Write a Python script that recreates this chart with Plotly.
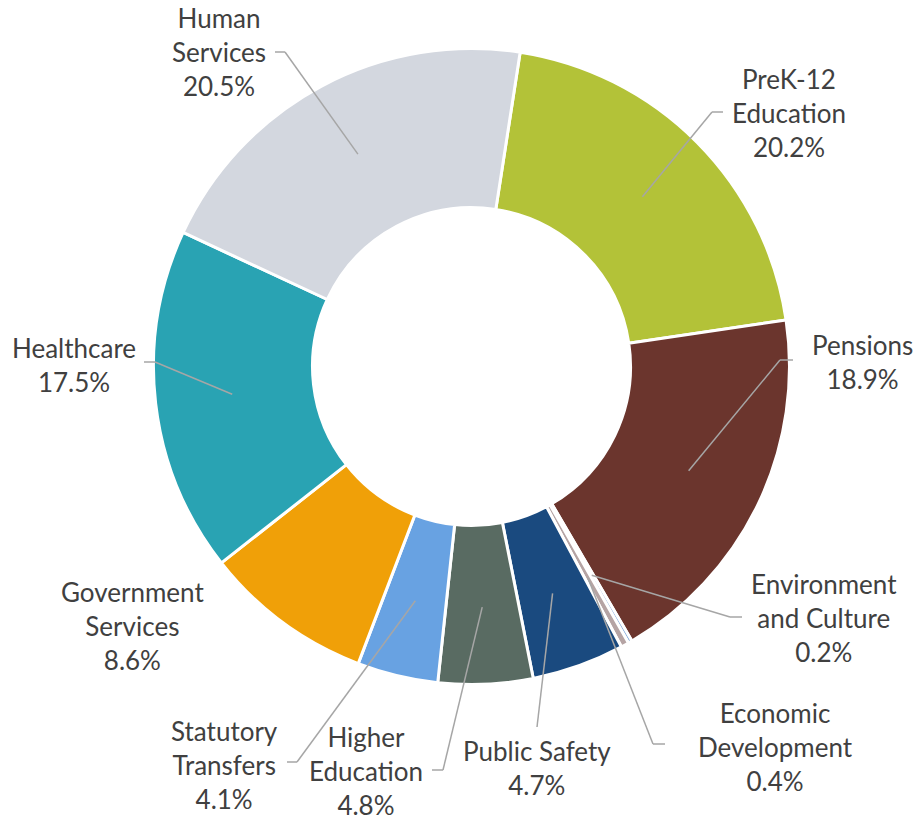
import math
import plotly.graph_objects as go

# ---- data ----
categories = ["PreK-12 Education", "Pensions", "Environment and Culture",
              "Economic Development", "Public Safety", "Higher Education",
              "Statutory Transfers", "Government Services", "Healthcare",
              "Human Services"]
label_text = ["PreK-12<br>Education", "Pensions", "Environment<br>and Culture",
              "Economic<br>Development", "Public Safety", "Higher<br>Education",
              "Statutory<br>Transfers", "Government<br>Services", "Healthcare",
              "Human<br>Services"]
values = [20.2, 18.9, 0.2, 0.4, 4.7, 4.8, 4.1, 8.6, 17.5, 20.5]

# ---- style ----
colors = ["#B3C238", "#6B352D", "#7FA7D9", "#B5A4A4", "#1A4A7F",
          "#596B62", "#68A2E2", "#F0A008", "#29A3B3", "#D3D7DF"]

W, H = 922, 822
CX, CY, R = 471.5, 366.5, 318.0       # pie centre / radius in page px
HOLE = 0.5
ROT = 8.8                             # degrees, clockwise from 12 o'clock

# label layout (page px): text centre, elbow point, end of horizontal tick
label_pos = {
    "PreK-12 Education":       dict(tx=789, ty=113, ex=712, ey=112, hx=723),
    "Pensions":                dict(tx=862, ty=362, ex=780, ey=360, hx=793),
    "Environment and Culture": dict(tx=824, ty=618, ex=730, ey=617, hx=742),
    "Economic Development":    dict(tx=775, ty=747, ex=653, ey=744, hx=665),
    "Public Safety":           dict(tx=537, ty=768, ex=537, ey=727, hx=None),
    "Higher Education":        dict(tx=366, ty=771, ex=443, ey=770, hx=432),
    "Statutory Transfers":     dict(tx=224, ty=765, ex=297, ey=762, hx=287),
    "Government Services":     dict(tx=132, ty=626, ex=None, ey=None, hx=None),
    "Healthcare":              dict(tx=74, ty=365, ex=155, ey=362, hx=144),
    "Human Services":          dict(tx=219, ty=52, ex=285, ey=52, hx=275),
}

def px(x):
    return x / W

def py(y):
    return 1 - y / H

fig = go.Figure(go.Pie(
    labels=categories, values=values, sort=False, direction="clockwise",
    rotation=ROT, hole=HOLE, textinfo="none", hoverinfo="label+percent",
    marker=dict(colors=colors, line=dict(color="white", width=3)),
    domain=dict(x=[px(CX - R), px(CX + R)], y=[py(CY + R), py(CY - R)]),
    showlegend=False,
))

total = sum(values)
cum = 0.0
shapes, annots = [], []
line_style = dict(color="#A6A6A6", width=1.5)
for cat, txt, v in zip(categories, label_text, values):
    mid = math.radians(ROT + 360 * (cum + v / 2) / total)
    cum += v
    rr = R * (HOLE + 1) / 2 * 1.01
    sx, sy = CX + rr * math.sin(mid), CY - rr * math.cos(mid)
    lp = label_pos[cat]
    if lp["ex"] is not None:
        shapes.append(dict(type="line", xref="paper", yref="paper",
                           x0=px(sx), y0=py(sy), x1=px(lp["ex"]), y1=py(lp["ey"]),
                           line=line_style))
        if lp["hx"] is not None:
            shapes.append(dict(type="line", xref="paper", yref="paper",
                               x0=px(lp["ex"]), y0=py(lp["ey"]), x1=px(lp["hx"]), y1=py(lp["ey"]),
                               line=line_style))
    annots.append(dict(xref="paper", yref="paper", x=px(lp["tx"]), y=py(lp["ty"]),
                       xanchor="center", yanchor="middle", showarrow=False,
                       text=f"{txt}<br>{v:.1f}%", align="center",
                       font=dict(family="Lato", size=26, color="#404040")))

fig.update_layout(
    width=W, height=H, margin=dict(l=0, r=0, t=0, b=0),
    paper_bgcolor="white", plot_bgcolor="white",
    shapes=shapes, annotations=annots,
)
fig.write_html("out.html", config={"displayModeBar": False},
               post_script="document.body.style.margin='0px';"
                           "document.body.style.overflow='hidden';")
